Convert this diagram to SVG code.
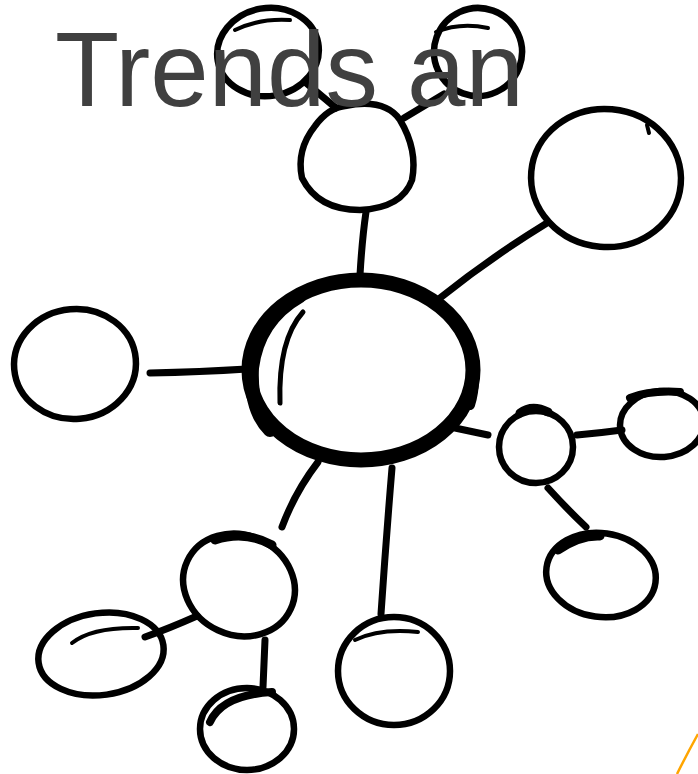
<svg xmlns="http://www.w3.org/2000/svg" width="698" height="774" viewBox="0 0 698 774">
<style>
.n{fill:none;stroke:#000;stroke-width:6.5;stroke-linecap:round;stroke-linejoin:round}
.c{fill:none;stroke:#000;stroke-width:7;stroke-linecap:round}
.h{fill:none;stroke:#000;stroke-width:4;stroke-linecap:round}
.t{font-family:"Liberation Sans",Arial,sans-serif;font-size:105px;fill:#404040}
</style>
<rect width="698" height="774" fill="#fff"/>
<g id="connectors">
<path class="c" d="M305 82 L336 108"/>
<path class="c" d="M404 118 L444 94"/>
<path class="c" d="M366 212 Q362 240 360 275"/>
<path class="c" d="M547 223 Q490 258 440 298"/>
<path class="c" d="M150 373 Q200 372 247 369"/>
<path class="c" d="M455 428 L488 435"/>
<path class="c" d="M577 435 Q600 433 622 430"/>
<path class="c" d="M548 488 Q568 510 586 527"/>
<path class="c" d="M318 462 Q295 492 282 527"/>
<path class="c" d="M392 468 Q386 540 381 614"/>
<path class="c" d="M197 616 Q170 628 145 637"/>
<path class="c" d="M265 640 L263 687"/>
</g>
<g id="node-top-left">
<ellipse class="n" cx="268" cy="52" rx="51" ry="44" transform="rotate(-10 268 52)"/>
<path class="h" d="M235 30 Q260 18 290 20"/>
</g>
<g id="node-top-right">
<ellipse class="n" cx="478" cy="52" rx="44" ry="44" transform="rotate(20 478 52)"/>
<path class="h" d="M436 32 Q460 22 488 28"/>
</g>
<g id="node-top-mid">
<path class="n" d="M345 106 Q385 98 400 120 Q418 150 412 180 Q402 208 360 210 Q318 210 302 178 Q296 150 315 126 Q328 108 345 106 Z"/>
</g>
<g id="node-right-big">
<ellipse class="n" cx="606" cy="178" rx="75" ry="69" transform="rotate(5 606 178)"/>
<path class="h" d="M647 125 L649 133"/>
</g>
<g id="node-center">
<ellipse cx="361" cy="370" rx="112" ry="90" fill="none" stroke="#000" stroke-width="15"/>
<path d="M300 296 Q258 320 252 368 Q250 410 270 430" fill="none" stroke="#000" stroke-width="14" stroke-linecap="round"/>
<path d="M470 350 Q478 380 470 405" fill="none" stroke="#000" stroke-width="10" stroke-linecap="round"/>
<path d="M303 312 Q278 340 280 403" fill="none" stroke="#000" stroke-width="5" stroke-linecap="round"/>
</g>
<g id="node-left">
<ellipse class="n" cx="75" cy="364" rx="61" ry="55" transform="rotate(-5 75 364)"/>
</g>
<g id="node-right-small">
<ellipse class="n" cx="536" cy="447" rx="37" ry="36"/>
<path d="M520 413 Q532 404 548 412" fill="none" stroke="#000" stroke-width="9" stroke-linecap="round"/>
</g>
<g id="node-far-right">
<ellipse class="n" cx="662" cy="424" rx="42" ry="33" transform="rotate(-4 662 424)"/>
<path d="M630 398 Q650 390 680 392" fill="none" stroke="#000" stroke-width="8" stroke-linecap="round"/>
</g>
<g id="node-bottom-right">
<ellipse class="n" cx="601" cy="575" rx="55" ry="42" transform="rotate(8 601 575)"/>
<path d="M558 550 Q580 535 600 536" fill="none" stroke="#000" stroke-width="9" stroke-linecap="round"/>
</g>
<g id="node-bottom-left-mid">
<ellipse class="n" cx="239" cy="585" rx="57" ry="50" transform="rotate(25 239 585)"/>
<path d="M215 540 Q245 530 272 545" fill="none" stroke="#000" stroke-width="9" stroke-linecap="round"/>
</g>
<g id="node-far-left">
<ellipse class="n" cx="101" cy="654" rx="63" ry="41" transform="rotate(-8 101 654)"/>
<path class="h" d="M72 643 Q92 627 138 628"/>
</g>
<g id="node-bottom-small">
<ellipse class="n" cx="247" cy="729" rx="47" ry="41"/>
<path d="M210 722 Q222 695 272 692" fill="none" stroke="#000" stroke-width="8" stroke-linecap="round"/>
</g>
<g id="node-bottom-mid">
<ellipse class="n" cx="394" cy="671" rx="56" ry="54"/>
<path class="h" d="M355 640 Q380 628 418 632"/>
</g>
<path d="M677 774 Q688 752 698 734" fill="none" stroke="#FFA500" stroke-width="2.5"/>
<text class="t" x="55" y="106">Trends an</text>
</svg>
